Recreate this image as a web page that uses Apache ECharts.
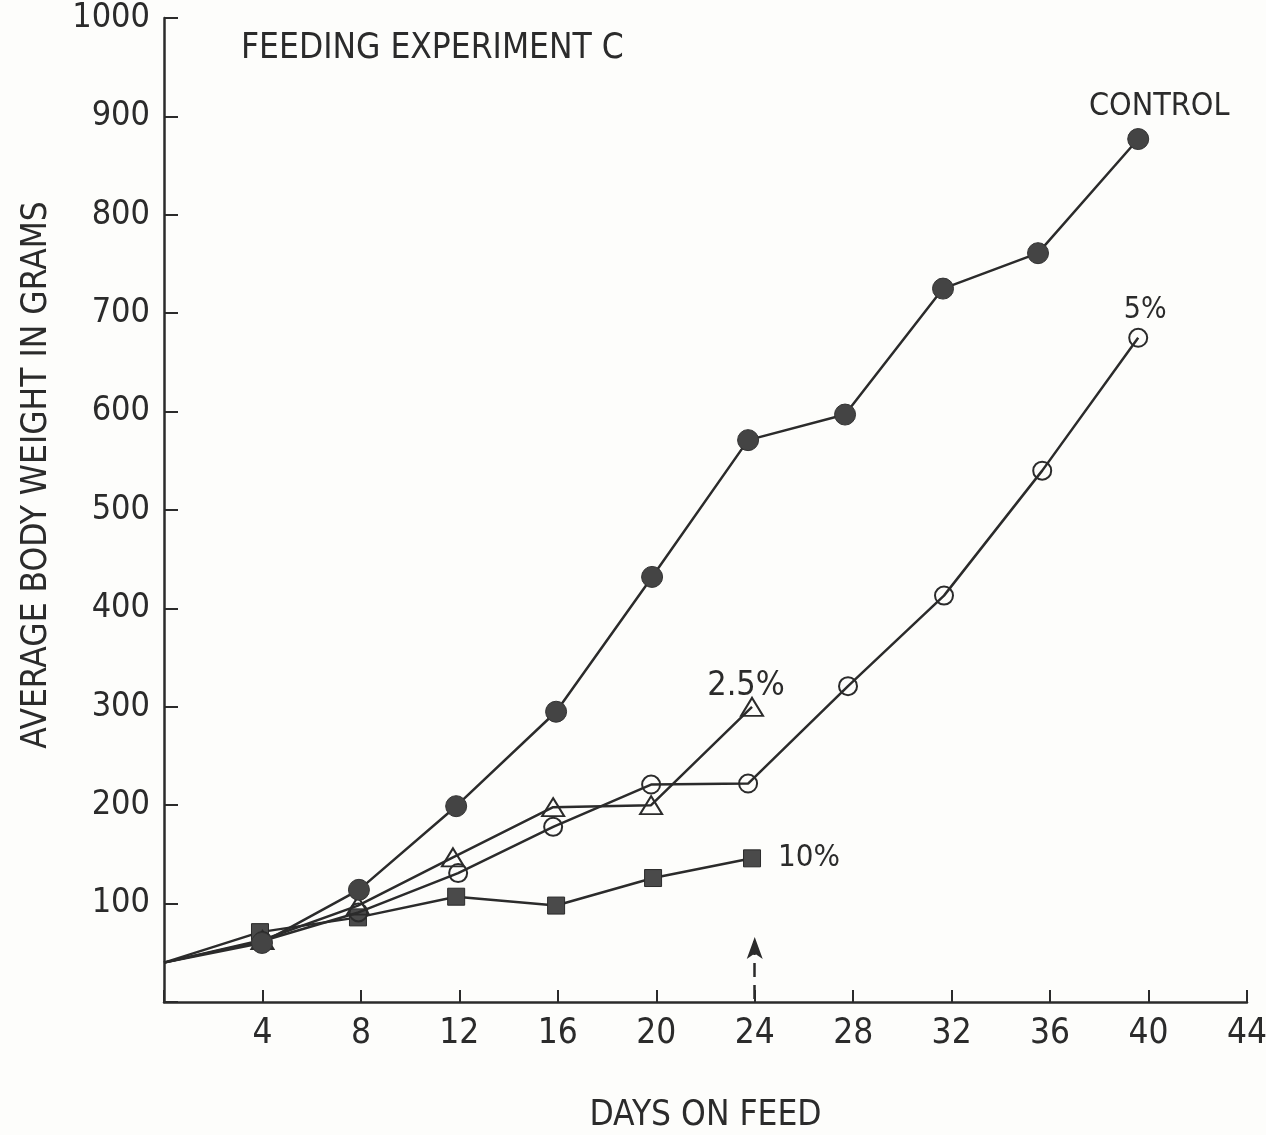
<!DOCTYPE html>
<html>
<head>
<meta charset="utf-8">
<script src="https://cdn.jsdelivr.net/npm/echarts@6/dist/echarts.min.js"></script>
<style>
html,body{margin:0;padding:0;background:#fdfdfb;}
#chart{width:1266px;height:1135px;}
</style>
</head>
<body>
<div id="chart"></div>
<script>
// ---- data ----
const xTicks = [4, 8, 12, 16, 20, 24, 28, 32, 36, 40, 44];
const yTicks = [100, 200, 300, 400, 500, 600, 700, 800, 900, 1000];

const controlDays = [0, 3.98, 7.92, 11.87, 15.93, 19.83, 23.73, 27.67, 31.65, 35.51, 39.58];
const controlWeight = [40, 60, 114, 199, 295, 432, 571, 597, 725, 761, 877];

const fivePctDays = [0, 4.0, 7.9, 11.95, 15.81, 19.79, 23.73, 27.79, 31.69, 35.68, 39.58];
const fivePctWeight = [40, 62, 91, 131, 178, 221, 222, 321, 413, 540, 675];

const twoFivePctDays = [0, 4.0, 7.88, 11.74, 15.81, 19.79, 23.89];
const twoFivePctWeight = [40, 63, 98, 147, 198, 200, 300];

const tenPctDays = [0, 3.9, 7.88, 11.87, 15.93, 19.87, 23.89];
const tenPctWeight = [40, 71, 86, 107, 98, 126, 146];

const arrowDay = 24;
const arrowFrom = 3, arrowTo = 66;

// ---- chart ----
const FONT = '"Liberation Sans Narrow","DejaVu Sans Condensed","Roboto Condensed","Liberation Sans",sans-serif';
const INK = '#2b2b2b';

function buildData(xs, ys, text, position, offset, fontSize) {
  return xs.map((x, i) => {
    const item = { value: [x, ys[i]] };
    if (i === 0) item.symbol = 'none';
    if (i === xs.length - 1) {
      item.label = { show: true, formatter: text, position: position, offset: offset,
        fontFamily: FONT, fontSize: fontSize, color: INK };
    }
    return item;
  });
}

const chart = echarts.init(document.getElementById('chart'), null, { renderer: 'canvas' });

const lineStyle = { color: INK, width: 2.5 };

chart.setOption({
  backgroundColor: '#fdfdfb',
  animation: false,
  title: {
    text: 'FEEDING EXPERIMENT C',
    left: 236, top: 26,
    textStyle: { fontFamily: FONT, fontSize: 35, fontWeight: 'normal', color: INK }
  },
  grid: { left: 164, right: 19, top: 18, bottom: 133, outerBoundsMode: 'none', containLabel: false },
  xAxis: {
    type: 'value', min: 0, max: 44, interval: 4,
    name: 'DAYS ON FEED', nameLocation: 'middle', nameGap: 96,
    nameTextStyle: { fontFamily: FONT, fontSize: 35, color: INK },
    axisLine: { lineStyle: { color: INK, width: 2.5 } },
    axisTick: { inside: true, length: 12, lineStyle: { color: INK, width: 2 } },
    axisLabel: {
      fontFamily: FONT, fontSize: 35, color: INK, margin: 14,
      formatter: v => (xTicks.indexOf(v) >= 0 ? String(v) : '')
    },
    splitLine: { show: false }
  },
  yAxis: {
    type: 'value', min: 0, max: 1000, interval: 100,
    name: 'AVERAGE BODY WEIGHT IN GRAMS', nameLocation: 'middle', nameGap: 110, nameRotate: 90,
    nameTextStyle: { fontFamily: FONT, fontSize: 35, color: INK, padding: [0, 0, 0, 70] },
    axisLine: { lineStyle: { color: INK, width: 2.5 } },
    axisTick: { inside: true, length: 14, lineStyle: { color: INK, width: 2 } },
    axisLabel: {
      fontFamily: FONT, fontSize: 34, color: INK, margin: 14,
      formatter: v => (yTicks.indexOf(v) >= 0 ? String(v) : '')
    },
    splitLine: { show: false }
  },
  series: [
    {
      name: '10%', type: 'line', z: 3,
      data: buildData(tenPctDays, tenPctWeight, '10%', 'right', [12, 0], 31),
      symbol: 'rect', symbolSize: 17, showSymbol: true,
      lineStyle: lineStyle,
      itemStyle: { color: '#4a4a4a', borderColor: '#2b2b2b', borderWidth: 1 },
      markLine: {
        silent: true, symbol: ['none', 'arrow'], symbolSize: [12, 22],
        label: { show: false },
        lineStyle: { color: INK, width: 2.5, type: [14, 8] },
        data: [[{ coord: [arrowDay, arrowFrom] }, { coord: [arrowDay, arrowTo] }]]
      }
    },
    {
      name: '2.5%', type: 'line', z: 4,
      data: buildData(twoFivePctDays, twoFivePctWeight, '2.5%', 'top', [-6, 11], 34),
      symbol: 'triangle', symbolSize: [22, 18], showSymbol: true,
      lineStyle: lineStyle,
      itemStyle: { color: 'rgba(255,255,255,0)', borderColor: INK, borderWidth: 2 }
    },
    {
      name: '5%', type: 'line', z: 5,
      data: buildData(fivePctDays, fivePctWeight, '5%', 'top', [7, 2], 30),
      symbol: 'circle', symbolSize: 18, showSymbol: true,
      lineStyle: lineStyle,
      itemStyle: { color: 'rgba(255,255,255,0)', borderColor: INK, borderWidth: 2 }
    },
    {
      name: 'CONTROL', type: 'line', z: 6,
      data: buildData(controlDays, controlWeight, 'CONTROL', 'top', [21, 0], 32),
      symbol: 'circle', symbolSize: 21, showSymbol: true,
      lineStyle: lineStyle,
      itemStyle: { color: '#444444', borderColor: '#333', borderWidth: 1 }
    }
  ]
});
</script>
</body>
</html>
